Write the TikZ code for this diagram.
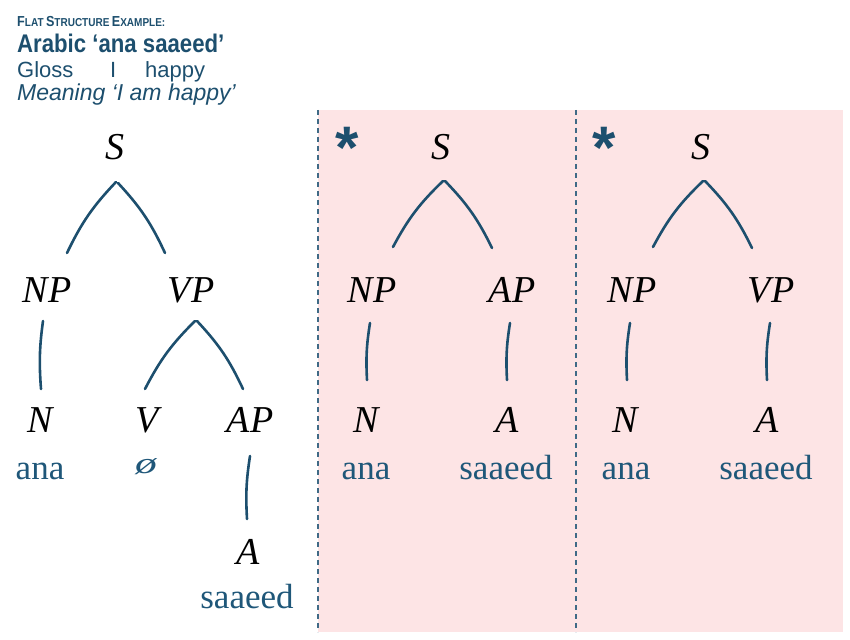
\documentclass[tikz,border=0pt]{standalone}
\usepackage{fontspec}
\setmainfont{Liberation Serif}
\newfontfamily\hdr{Liberation Sans}
\newfontfamily\hdrn[FakeStretch=0.87]{Liberation Sans}
\newfontfamily\starf{Liberation Sans}
\usetikzlibrary{calc}
\definecolor{ink}{HTML}{1D4F6E}
\definecolor{word}{HTML}{1F5779}
\definecolor{pinkbg}{HTML}{FDE4E5}
\definecolor{dashc}{HTML}{3F6A86}
\tikzset{
  lab/.style={inner sep=0pt, font=\fontsize{38}{38}\selectfont\itshape, text=black},
  wrd/.style={inner sep=0pt, anchor=base, font=\fontsize{35}{35}\selectfont, text=word},
  br/.style={draw=ink, line width=2.6pt, line cap=round},
  sep/.style={draw=dashc, line width=1.1pt, dash pattern=on 5pt off 4pt},
  hd/.style={inner sep=0pt, anchor=base west, text=ink},
  star/.style={inner sep=0pt, anchor=base, text=ink, font=\starf\bfseries\fontsize{60}{60}\selectfont}
}
\begin{document}
\begin{tikzpicture}[x=1pt,y=1pt]
\useasboundingbox (0,0) rectangle (850,-639);
% background panel
\fill[pinkbg] (318,-110) rectangle (843,-632);
\draw[sep] (318,-110) -- (318,-632);
\draw[sep] (576,-110) -- (576,-632);
% header
\node[hd, font=\hdrn\bfseries] (h1) at (17,-27) {{\fontsize{14.5}{14.5}\selectfont F}{\fontsize{11.5}{11.5}\selectfont LAT} {\fontsize{14.5}{14.5}\selectfont S}{\fontsize{11.5}{11.5}\selectfont TRUCTURE} {\fontsize{14.5}{14.5}\selectfont E}{\fontsize{11.5}{11.5}\selectfont XAMPLE:}};
\node[hd, font=\hdrn\bfseries\fontsize{25.5}{25.5}\selectfont] (h2) at (17,-53) {Arabic ‘ana saaeed’};
\node[hd, font=\hdr\fontsize{22}{22}\selectfont] (h3) at (17,-78) {Gloss};
\node[hd, font=\hdr\fontsize{22}{22}\selectfont] (h4) at (110,-78) {I};
\node[hd, font=\hdr\fontsize{22}{22}\selectfont] (h5) at (145,-78) {happy};
\node[hd, font=\hdr\itshape\fontsize{23}{23}\selectfont] (h6) at (17,-101) {Meaning ‘I am happy’};
% ---------- tree 1 ----------
\node[lab] (s1) at (115,-147) {S};
\node[lab] (np1) at (47,-290) {NP};
\node[lab] (vp1) at (191,-290) {VP};
\node[lab] (n1) at (40,-420) {N};
\node[lab] (v1) at (147,-420) {V};
\node[lab] (ap1) at (250,-420) {AP};
\node[lab] (a1) at (248,-552) {A};
\node[wrd] (w11) at (40,-479) {ana};
\node[wrd, font=\fontsize{30}{30}\selectfont\itshape, xscale=1.45] (w12) at (146,-473) {ø};
\node[wrd] (w13) at (247,-608) {saaeed};
\draw[br] ($(s1)+(1,-35)$) to[bend right=9] ($(np1)+(20,37)$);
\draw[br] ($(s1)+(3,-36)$) to[bend left=9] ($(vp1)+(-26,37)$);
\draw[br] ($(np1)+(-4,-31)$) to[bend right=6] ($(n1)+(1,31)$);
\draw[br] ($(vp1)+(4,-31)$) to[bend right=9] ($(v1)+(-2,31)$);
\draw[br] ($(vp1)+(6,-31)$) to[bend left=9] ($(ap1)+(-7,31)$);
\draw[br] ($(ap1)+(0,-36)$) to[bend right=6] ($(a1)+(-1,33)$);
% ---------- tree 2 ----------
\node[star] (st2) at (347,-168) {*};
\node[lab] (s2) at (441,-147) {S};
\node[lab] (np2) at (372,-290) {NP};
\node[lab] (ap2) at (512,-290) {AP};
\node[lab] (n2) at (366,-420) {N};
\node[lab] (a2) at (507,-420) {A};
\node[wrd] (w21) at (366,-479) {ana};
\node[wrd] (w22) at (506,-479) {saaeed};
\draw[br] ($(s2)+(2,-34)$) to[bend right=9] ($(np2)+(21,43)$);
\draw[br] ($(s2)+(4,-34)$) to[bend left=9] ($(ap2)+(-20,42)$);
\draw[br] ($(np2)+(-2,-33)$) to[bend right=6] ($(n2)+(1,40)$);
\draw[br] ($(ap2)+(-2,-33)$) to[bend right=6] ($(a2)+(0,40)$);
% ---------- tree 3 ----------
\node[star] (st3) at (604,-168) {*};
\node[lab] (s3) at (701,-147) {S};
\node[lab] (np3) at (632,-290) {NP};
\node[lab] (vp3) at (771,-290) {VP};
\node[lab] (n3) at (625,-420) {N};
\node[lab] (a3) at (767,-420) {A};
\node[wrd] (w31) at (626,-479) {ana};
\node[wrd] (w32) at (766,-479) {saaeed};
\draw[br] ($(s3)+(2,-34)$) to[bend right=9] ($(np3)+(21,43)$);
\draw[br] ($(s3)+(4,-34)$) to[bend left=9] ($(vp3)+(-19,42)$);
\draw[br] ($(np3)+(-2,-33)$) to[bend right=6] ($(n3)+(2,40)$);
\draw[br] ($(vp3)+(-1,-33)$) to[bend right=6] ($(a3)+(0,40)$);
\end{tikzpicture}
\end{document}
